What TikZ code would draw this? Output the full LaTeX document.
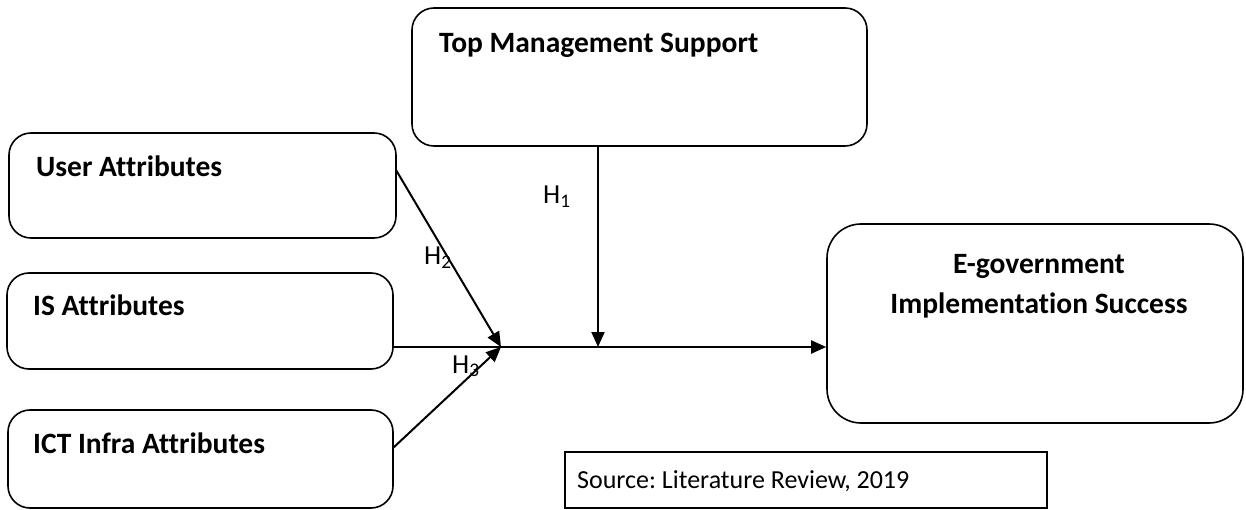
\documentclass[tikz,border=0pt]{standalone}
\usepackage{fontspec}
\setmainfont[Ligatures=NoCommon]{Carlito}
\usetikzlibrary{arrows.meta}
\frenchspacing
\begin{document}
\begin{tikzpicture}[x=1pt,y=-1pt,
  box/.style={draw=black,line width=1.6pt,rounded corners=22pt,inner sep=0pt},
  srcbox/.style={draw=black,line width=1.3pt,inner sep=0pt},
  title/.style={font=\fontsize{29.5}{34}\selectfont\bfseries,inner sep=0pt},
  hlab/.style={font=\fontsize{26}{30}\selectfont,inner sep=0pt},
  conn/.style={line width=2pt,-{Triangle[length=15pt,width=13pt]}},
  plain/.style={line width=2pt}]
\useasboundingbox (0,0) rectangle (1246,510);
% boxes
\node[box,minimum width=455pt,minimum height=138pt] (top) at (639.5,77) {};
\node[box,minimum width=387pt,minimum height=105pt] (user) at (202.5,185.5) {};
\node[box,minimum width=386pt,minimum height=96pt] (is) at (200,321) {};
\node[box,minimum width=385pt,minimum height=98pt] (ict) at (200.5,459) {};
\node[box,rounded corners=34pt,minimum width=416pt,minimum height=199pt] (egov) at (1035,323.5) {};
\node[srcbox,minimum width=482pt,minimum height=56pt] (src) at (806,480) {};
% texts
\node[title,anchor=base west] (toptxt) at (439,53) {Top Management Support};
\node[title,anchor=base west] (usertxt) at (36,177) {User Attributes};
\node[title,anchor=base west] (istxt) at (33,315) {IS Attributes};
\node[title,anchor=base west] (icttxt) at (33,453) {ICT Infra Attributes};
\node[title,anchor=base] (eg1) at (1039,273) {E-government};
\node[title,anchor=base] (eg2) at (1039,313) {Implementation Success};
\node[hlab,anchor=base west] (srctxt) at (577,488) {Source: Literature Review, 2019};
\node[hlab,font=\fontsize{27.5}{30}\selectfont,anchor=base west] (h1) at (543,204) {H\textsubscript{1}};
\node[hlab,font=\fontsize{27.5}{30}\selectfont,anchor=base west] (h2) at (424,265) {H\textsubscript{2}};
\node[hlab,font=\fontsize{27.5}{30}\selectfont,anchor=base west] (h3) at (452,373) {H\textsubscript{3}};
% connectors
\coordinate (j) at (501,347);
\coordinate (tm) at (598,347);
\coordinate (ua) at (396,170);
\coordinate (ia) at (393,347);
\coordinate (ca) at (393,448);
\draw[conn] (ia) -- (egov.west |- j);
\draw[conn] (top.south -| tm) -- (tm);
\draw[conn] (ua) -- (j);
\draw[conn] (ca) -- (j);
\end{tikzpicture}
\end{document}
